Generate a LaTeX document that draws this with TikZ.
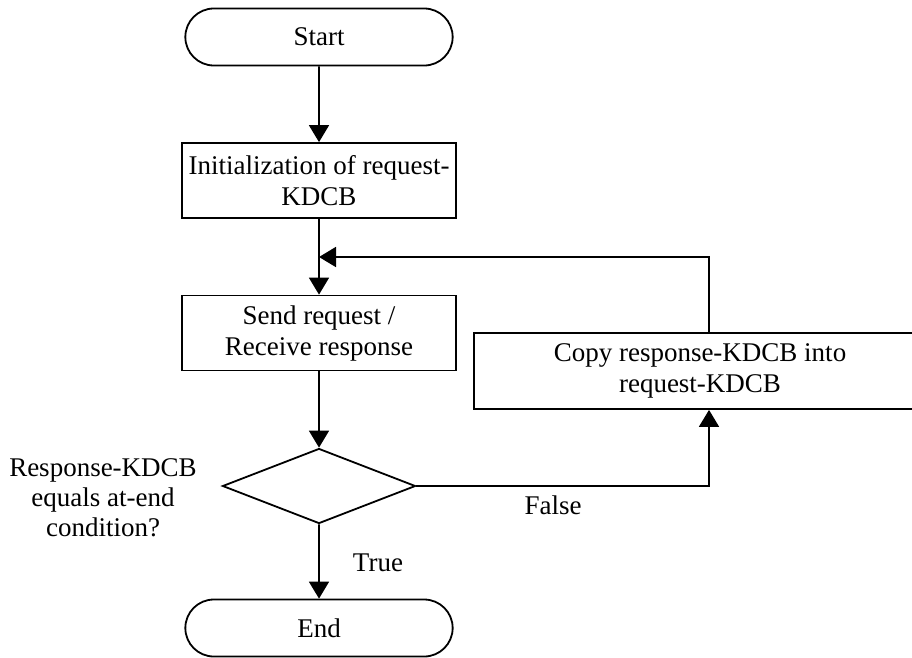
\documentclass[tikz,border=0pt]{standalone}
\usepackage{fontspec}
\setmainfont{Liberation Serif}
\usetikzlibrary{shapes.geometric,shapes.misc,arrows.meta}
\tikzset{
  flowline/.style={line width=1.8pt,-{Triangle[length=17pt,width=20pt]}},
  terminal/.style={draw,line width=1.8pt,rounded rectangle,minimum width=274pt,minimum height=57pt},
  process/.style={draw,line width=1.8pt,rectangle,inner sep=3pt,minimum width=274pt,minimum height=75pt,align=center},
  decision/.style={draw,line width=1.8pt,diamond,inner sep=0pt,minimum width=193pt,minimum height=75pt},
}
\begin{document}
\begin{tikzpicture}[x=1pt,y=-1pt,font=\fontsize{27}{31}\selectfont]
  \useasboundingbox (0,0) rectangle (912,657);
  \node[terminal] (start) at (319,37) {Start};
  \node[process] (init) at (319,180.5) {Initialization of request-\\KDCB};
  \node[process] (send) at (319,333) {Send request /\\Receive response};
  \node[decision] (test) at (319,486) {};
  \node[terminal] (stop) at (319,628) {End};
  \node[process,minimum width=452pt,minimum height=76pt] (copy) at (700,371) {Copy response-KDCB into\\request-KDCB};
  \node[align=center,font=\fontsize{27}{30}\selectfont] (cond) at (103,498) {Response-KDCB\\equals at-end\\condition?};
  \node (true) at (378,563) {True};
  \node (false) at (553,505) {False};
  \coordinate (join) at (319,257);
  \coordinate (loop) at (709,257);
  \draw[flowline] (start) -- (init);
  \draw[flowline] (init) -- (send);
  \draw[flowline] (send) -- (test);
  \draw[flowline] (test) -- (stop);
  \draw[flowline] (test.east) -| (copy.south -| loop);
  \draw[flowline] (copy.north -| loop) |- (join);
\end{tikzpicture}
\end{document}
